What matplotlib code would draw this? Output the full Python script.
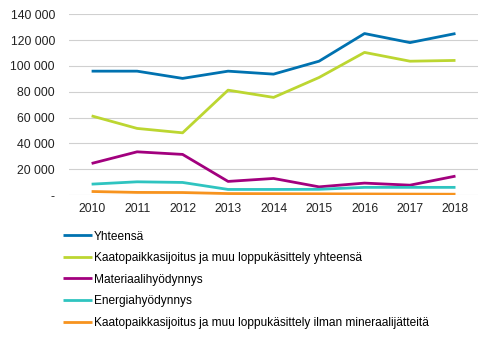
import matplotlib
matplotlib.use("Agg")
import matplotlib.pyplot as plt
from matplotlib.ticker import FuncFormatter

years = ["2010", "2011", "2012", "2013", "2014", "2015", "2016", "2017", "2018"]

yhteensa = [95900, 95900, 90300, 95900, 93600, 103600, 125000, 118000, 125000]
kaatopaikka = [61300, 51600, 48200, 81200, 75600, 91000, 110400, 103600, 104200]
materiaali = [24500, 33500, 31500, 10600, 12900, 6400, 9300, 7700, 14700]
energia = [8500, 10300, 9800, 4400, 4400, 4500, 6000, 6000, 6000]
ilman_mineraali = [2800, 2100, 2000, 1200, 1100, 1000, 900, 800, 700]

labels = [
    "Yhteensä",
    "Kaatopaikkasijoitus ja muu loppukäsittely yhteensä",
    "Materiaalihyödynnys",
    "Energiahyödynnys",
    "Kaatopaikkasijoitus ja muu loppukäsittely ilman mineraalijätteitä",
]
colors = ["#0072b0", "#bcd631", "#a2007e", "#2fc4c0", "#f7931e"]

plt.rcParams["font.family"] = ["Liberation Sans", "DejaVu Sans"]

fig = plt.figure(figsize=(4.92, 3.37), dpi=100)
ax = fig.add_axes([0.140, 0.421, 0.832, 0.537])

x = range(len(years))
series = [yhteensa, kaatopaikka, materiaali, energia, ilman_mineraali]
for vals, lab, col in zip(series, labels, colors):
    ax.plot(x, vals, color=col, lw=2.0, label=lab, solid_capstyle="butt")

ax.set_xlim(-0.5, len(years) - 0.5)
ax.set_ylim(0, 140000)
ax.set_yticks(range(0, 140001, 20000))
ax.yaxis.set_major_formatter(FuncFormatter(
    lambda v, p: "-" if v == 0 else "{:,.0f}".format(v).replace(",", " ")))
ax.set_xticks(list(x))
ax.set_xticklabels(years)
ax.tick_params(axis="both", length=0, labelsize=8.8, colors="#222222")
ax.tick_params(axis="y", pad=10)
ax.tick_params(axis="x", pad=6)
ax.grid(axis="y", color="#d0d0d0", lw=0.8)
ax.set_axisbelow(True)
for s in ax.spines.values():
    s.set_visible(False)

fig.legend(loc="upper left", bbox_to_anchor=(0.128, 0.316), frameon=False,
           fontsize=8.6, handlelength=2.45, handletextpad=0.15,
           labelspacing=0.8, borderaxespad=0, borderpad=0)

fig.savefig("out.png", dpi=100)
